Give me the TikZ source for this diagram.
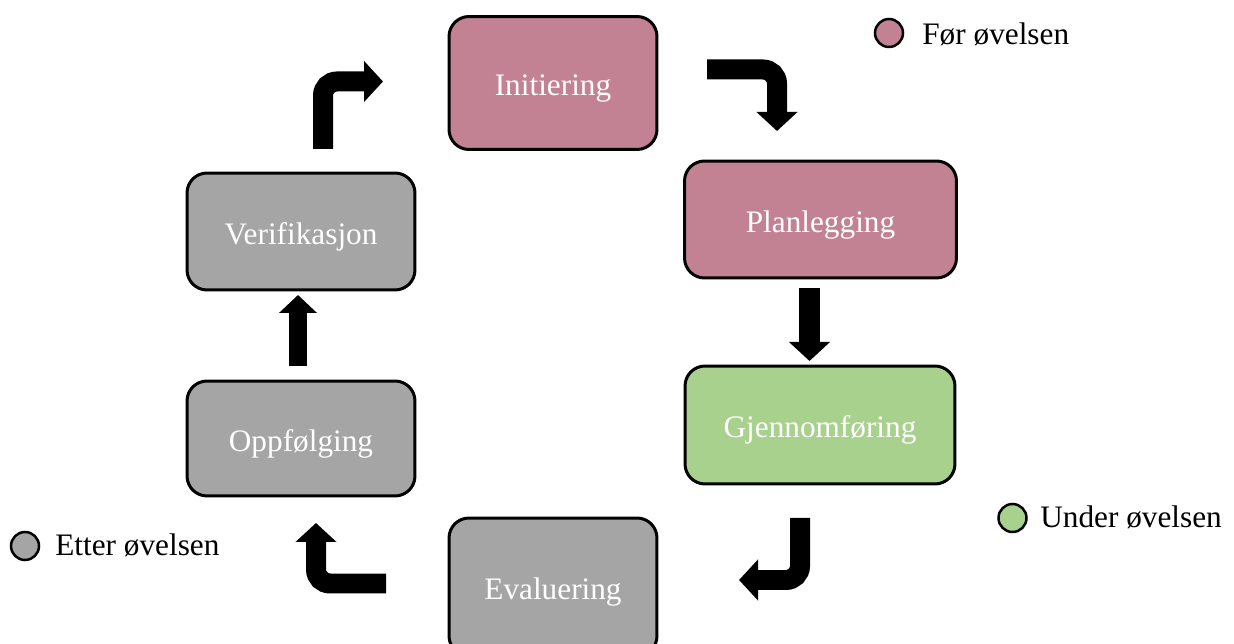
\documentclass[tikz,border=0pt]{standalone}
\usepackage{fontspec}
\setmainfont{Liberation Serif}
\usetikzlibrary{arrows.meta}

\definecolor{foerfarge}{HTML}{C38294}
\definecolor{underfarge}{HTML}{A9D18E}
\definecolor{etterfarge}{HTML}{A5A5A5}

\tikzset{
  fase/.style={draw=black, line width=0.06cm, rounded corners=0.4cm,
    text=white, align=center, text height=15.6pt, text depth=1pt,
    font=\fontsize{17.8pt}{20pt}\selectfont},
  pil/.style={draw=black, line width=0.4cm, rounded corners=0.28cm,
    -{Triangle[length=0.38cm,width=0.8cm]}},
  rettpil/.style={draw=black, line width=0.36cm,
    -{Triangle[length=0.36cm,width=0.74cm]}},
  merke/.style={circle, draw=black, line width=0.05cm, minimum size=0.56cm, inner sep=0pt},
  merketekst/.style={anchor=base west, inner sep=0pt,
    font=\fontsize{17.8pt}{20pt}\selectfont}
}

\begin{document}
\begin{tikzpicture}[x=0.02cm,y=-0.02cm]
  \useasboundingbox (0,0) rectangle (1234,644);
  \clip (0,0) rectangle (1234,644);

  % Phases of the exercise
  \node[fase, fill=foerfarge, minimum width=4.16cm, minimum height=2.66cm] (init) at (553,83) {Initiering};
  \node[fase, fill=foerfarge, minimum width=5.44cm, minimum height=2.34cm] (plan) at (820.5,219.5) {Planlegging};
  \node[fase, fill=underfarge, minimum width=5.40cm, minimum height=2.36cm] (gjen) at (820,425) {Gjennomføring};
  \node[fase, fill=etterfarge, minimum width=4.16cm, minimum height=2.76cm] (eval) at (553,587) {Evaluering};
  \node[fase, fill=etterfarge, minimum width=4.56cm, minimum height=2.30cm] (oppf) at (301,438.5) {Oppfølging};
  \node[fase, fill=etterfarge, minimum width=4.56cm, minimum height=2.34cm] (veri) at (301,231.5) {Verifikasjon};

  % End points of the free-standing arrows
  \coordinate (a1s) at (707,69.5);  \coordinate (a1k) at (777,69.5);  \coordinate (a1e) at (777,131);
  \coordinate (a2s) at (809.5,288); \coordinate (a2e) at (809.5,361);
  \coordinate (a3s) at (800,518);   \coordinate (a3k) at (800,580);   \coordinate (a3e) at (739,580);
  \coordinate (a4s) at (386,583.5); \coordinate (a4k) at (316,583.5); \coordinate (a4e) at (316,523);
  \coordinate (a5s) at (298,366);   \coordinate (a5e) at (298,295);
  \coordinate (a6s) at (323,149);   \coordinate (a6k) at (323,81.5);  \coordinate (a6e) at (383,81.5);

  \draw[pil] (a1s) -- (a1k) -- (a1e);
  \draw[pil, line width=0.42cm, sharp corners] (a2s) -- (a2e);
  \draw[pil] (a3s) -- (a3k) -- (a3e);
  \draw[pil] (a4s) -- (a4k) -- (a4e);
  \draw[rettpil] (a5s) -- (a5e);
  \draw[pil] (a6s) -- (a6k) -- (a6e);

  % Legend
  \node[merke, fill=foerfarge] (mfoer) at (889,33) {};
  \node[merketekst] (tfoer) at (922,45) {Før øvelsen};
  \node[merke, fill=underfarge] (munder) at (1012.5,518) {};
  \node[merketekst] (tunder) at (1040,528) {Under øvelsen};
  \node[merke, fill=etterfarge] (metter) at (25,546) {};
  \node[merketekst] (tetter) at (55,556) {Etter øvelsen};
\end{tikzpicture}
\end{document}
